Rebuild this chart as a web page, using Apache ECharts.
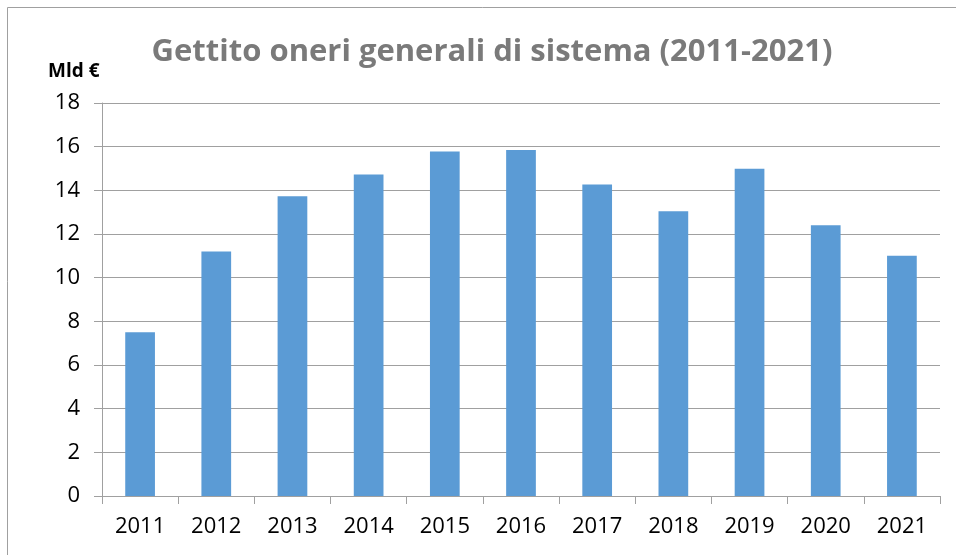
<!DOCTYPE html>
<html><head><meta charset="utf-8">
<script src="https://cdn.jsdelivr.net/npm/echarts@6/dist/echarts.min.js"></script>
<style>html,body{margin:0;padding:0;background:#fff}#c{width:956px;height:555px}</style>
</head><body><div id="c"></div>
<script>
const categories = ['2011','2012','2013','2014','2015','2016','2017','2018','2019','2020','2021'];
const values = [7.5, 11.2, 13.73, 14.73, 15.78, 15.85, 14.27, 13.04, 14.99, 12.4, 11.0];
const titleText = 'Gettito oneri generali di sistema (2011-2021)';
const unitText = 'Mld €';

const chart = echarts.init(document.getElementById('c'));
chart.setOption({
  animation: false,
  title: {
    text: titleText, left: 487, top: 32, textAlign: 'center',
    textStyle: {fontFamily: 'Open Sans', fontWeight: 'bold', fontSize: 31, color: '#7a7a7a'}
  },
  graphic: [
    {type: 'rect', shape: {x: 7.5, y: 7.5, width: 960, height: 560}, style: {fill: 'none', stroke: '#a0a0a0', lineWidth: 1}, silent: true},
    {type: 'text', left: 48, top: 62, style: {text: unitText, font: 'bold 19px "Open Sans"', fill: '#000'}}
  ],
  grid: {left: 102, right: 16, top: 103, bottom: 59},
  xAxis: {
    type: 'category', data: categories,
    axisLine: {lineStyle: {color: '#a0a0a0'}},
    axisTick: {show: true, length: 8, lineStyle: {color: '#a0a0a0'}},
    axisLabel: {fontFamily: 'Open Sans', fontSize: 22, color: '#000', margin: 20}
  },
  yAxis: {
    type: 'value', min: 0, max: 18, interval: 2,
    axisLine: {show: true, lineStyle: {color: '#a0a0a0'}},
    axisTick: {show: true, length: 8, lineStyle: {color: '#a0a0a0'}},
    splitLine: {lineStyle: {color: '#a0a0a0'}},
    axisLabel: {fontFamily: 'Open Sans', fontSize: 22, color: '#000', margin: 22}
  },
  series: [{
    type: 'bar', data: values, barWidth: '39%',
    itemStyle: {color: '#5b9bd5'}
  }]
});
</script></body></html>
